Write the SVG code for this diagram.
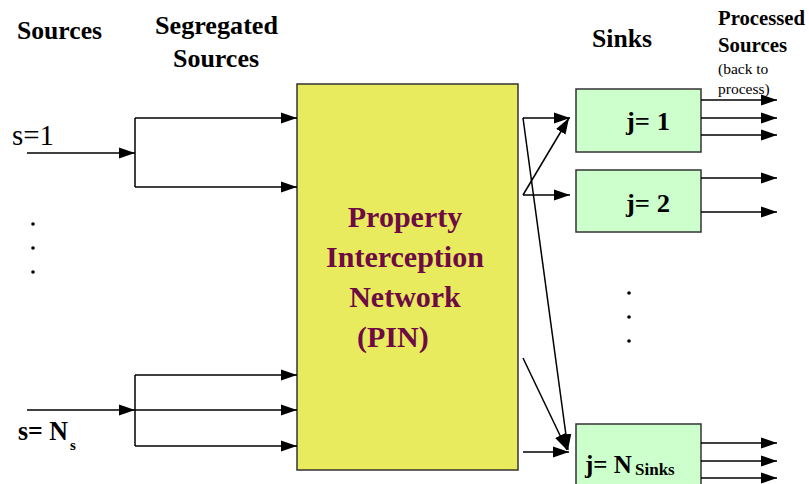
<svg xmlns="http://www.w3.org/2000/svg" width="809" height="484" viewBox="0 0 809 484">
  <style>
    .hdr { font-family: "Liberation Serif", "Times New Roman", serif; font-weight: bold; fill: #000; }
    .lbl { font-family: "Liberation Serif", "Times New Roman", serif; fill: #000; }
    .pin { font-family: "Liberation Serif", "Times New Roman", serif; font-weight: bold; font-size: 30px; fill: #6E0A44; }
    .wire { stroke: #000; stroke-width: 1.5; fill: none; }
    .arr { stroke: #000; stroke-width: 1.5; fill: none; marker-end: url(#head); }
    .sink { fill: #CCFFCC; stroke: #333; stroke-width: 1.5; }
    .dot { fill: #000; }
  </style>
  <defs>
    <marker id="head" markerUnits="userSpaceOnUse" markerWidth="17" markerHeight="12" refX="16" refY="6" orient="auto">
      <path d="M0,0.5 L16,6 L0,11.5 z" fill="#000"/>
    </marker>
  </defs>
  <rect width="809" height="484" fill="#fff"/>

  <!-- column headings -->
  <g id="headings">
    <text class="hdr" x="17" y="39" font-size="26" textLength="85" lengthAdjust="spacingAndGlyphs">Sources</text>
    <text class="hdr" x="155" y="34" font-size="26" textLength="123" lengthAdjust="spacingAndGlyphs">Segregated</text>
    <text class="hdr" x="173" y="67" font-size="26" textLength="86" lengthAdjust="spacingAndGlyphs">Sources</text>
    <text class="hdr" x="592" y="47" font-size="26" textLength="60" lengthAdjust="spacingAndGlyphs">Sinks</text>
    <text class="hdr" x="718" y="25" font-size="21" textLength="87" lengthAdjust="spacingAndGlyphs">Processed</text>
    <text class="hdr" x="718" y="52" font-size="21" textLength="69" lengthAdjust="spacingAndGlyphs">Sources</text>
    <text class="lbl" x="718" y="74" font-size="15.5">(back to</text>
    <text class="lbl" x="718" y="94" font-size="15.5">process)</text>
  </g>

  <!-- source labels -->
  <g id="source-1">
    <text class="lbl" x="12" y="145" font-size="29" textLength="42" lengthAdjust="spacingAndGlyphs">s=1</text>
  </g>
  <g id="source-dots">
    <circle class="dot" cx="33" cy="224" r="1.8"/>
    <circle class="dot" cx="33" cy="248" r="1.8"/>
    <circle class="dot" cx="33" cy="272" r="1.8"/>
  </g>
  <g id="source-Ns">
    <text class="hdr" x="18" y="440" font-size="27" textLength="50" lengthAdjust="spacingAndGlyphs">s= N</text>
    <text class="hdr" x="70" y="450" font-size="15">s</text>
  </g>

  <!-- property interception network -->
  <g id="pin">
    <rect x="297" y="84" width="221" height="386" fill="#E9EB5E" stroke="#333" stroke-width="1.5"/>
    <text class="pin" x="405" y="227" text-anchor="middle">Property</text>
    <text class="pin" x="405" y="267" text-anchor="middle">Interception</text>
    <text class="pin" x="405" y="307" text-anchor="middle">Network</text>
    <text class="pin" x="357" y="347">(PIN)</text>
  </g>

  <!-- sinks -->
  <g id="sink-1">
    <rect class="sink" x="576" y="89" width="125" height="63"/>
    <text class="hdr" x="626" y="130" font-size="25" textLength="44" lengthAdjust="spacingAndGlyphs">j= 1</text>
  </g>
  <g id="sink-2">
    <rect class="sink" x="576" y="170" width="125" height="62"/>
    <text class="hdr" x="626" y="212" font-size="25" textLength="44" lengthAdjust="spacingAndGlyphs">j= 2</text>
  </g>
  <g id="sink-dots">
    <circle class="dot" cx="629" cy="293" r="1.8"/>
    <circle class="dot" cx="629" cy="317" r="1.8"/>
    <circle class="dot" cx="629" cy="341" r="1.8"/>
  </g>
  <g id="sink-N">
    <rect class="sink" x="576" y="424" width="125" height="70"/>
    <text class="hdr" x="585" y="473" font-size="25">j= N</text>
    <text class="hdr" x="635" y="475" font-size="17">Sinks</text>
  </g>

  <!-- connectors -->
  <g id="connectors">
    <!-- s=1 split -->
    <path class="arr" d="M27,153 H135"/>
    <path class="wire" d="M135,118 V187"/>
    <path class="arr" d="M135,118 H297"/>
    <path class="arr" d="M135,187 H297"/>
    <!-- s=Ns split -->
    <path class="arr" d="M27,410 H135"/>
    <path class="wire" d="M135,375 V446"/>
    <path class="arr" d="M135,375 H297"/>
    <path class="arr" d="M135,410 H297"/>
    <path class="arr" d="M135,446 H297"/>
    <!-- PIN outlets to sinks -->
    <path class="arr" d="M523,118 H570"/>
    <path class="arr" d="M523,118 L568,450"/>
    <path class="arr" d="M523,195 H570"/>
    <path class="arr" d="M523,195 L569,118"/>
    <path class="arr" d="M523,358 L567,450"/>
    <path class="arr" d="M523,452 H569"/>
    <!-- sink outputs -->
    <path class="arr" d="M701,100 H777"/>
    <path class="arr" d="M701,118 H777"/>
    <path class="arr" d="M701,135 H777"/>
    <path class="arr" d="M701,178 H777"/>
    <path class="arr" d="M701,212 H777"/>
    <path class="arr" d="M701,443 H777"/>
    <path class="arr" d="M701,461 H777"/>
    <path class="arr" d="M701,478 H777"/>
  </g>
</svg>
